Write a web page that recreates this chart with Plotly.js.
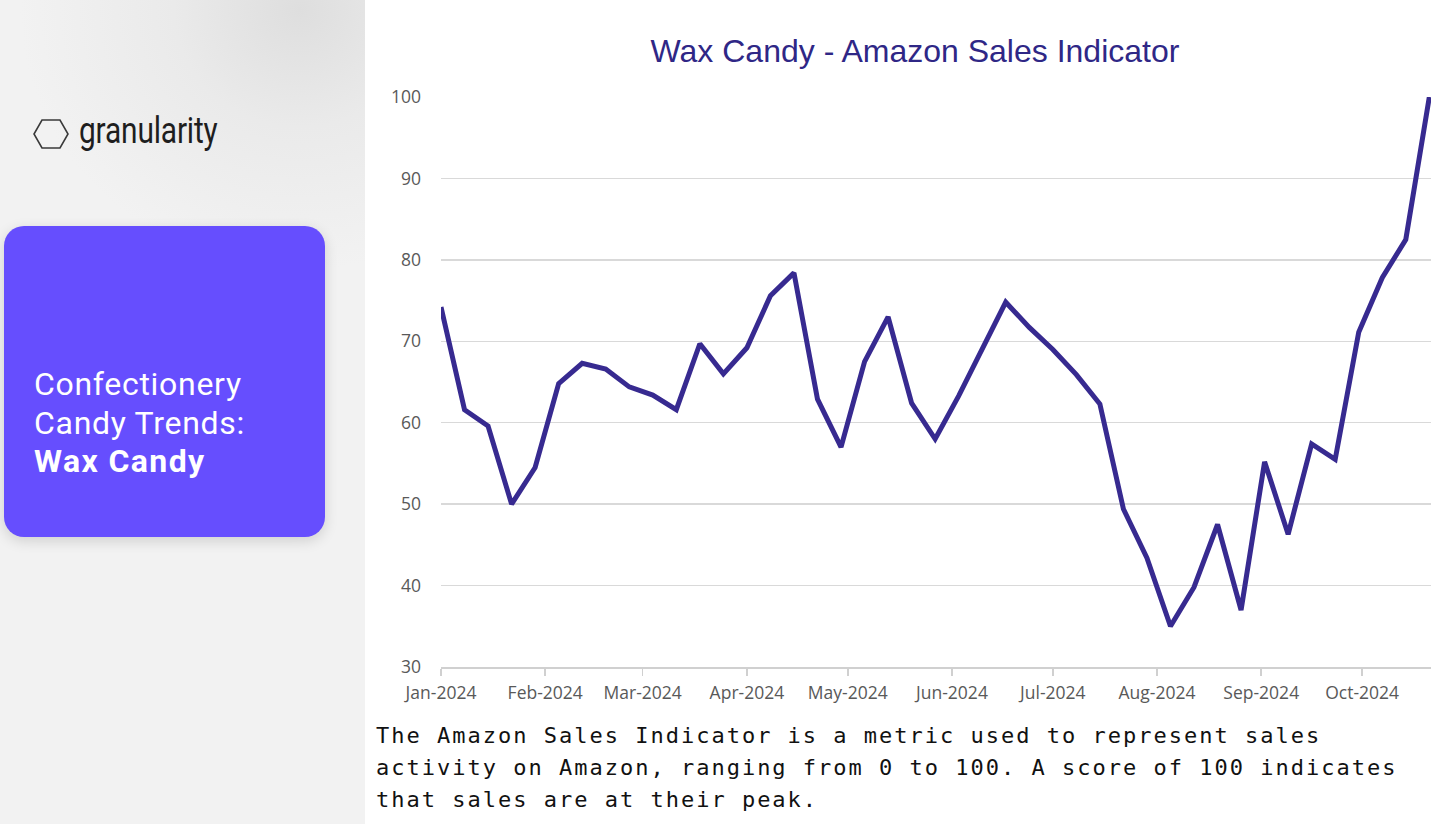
<!DOCTYPE html>
<html>
<head>
<meta charset="utf-8">
<script src="https://cdn.plot.ly/plotly-3.0.1.min.js"></script>
<style>
  html, body { margin:0; padding:0; width:1440px; height:824px; overflow:hidden; background:#ffffff; }
  #left { position:absolute; left:0; top:0; width:365px; height:824px;
    background: radial-gradient(ellipse 280px 260px at 300px 10px, #dedede 0%, #eaeaea 45%, #f2f2f2 100%), #f2f2f2; }
  #logo { position:absolute; left:33px; top:112px; height:44px; display:flex; align-items:center; }
  #logo svg { display:block; }
  #logoText { font-family: Roboto, "Noto Sans", sans-serif; font-size:36px; color:#1e1e1e; display:inline-block;
    transform: scaleX(0.83); transform-origin: left center; margin-left:10px; letter-spacing:-0.2px; line-height:44px; margin-top:-6px; }
  #card { position:absolute; left:4px; top:226px; width:321px; height:311px; border-radius:20px; background:#664efe;
    box-shadow: 0 4px 14px rgba(0,0,0,0.14); }
  .cardLine { position:absolute; left:30px; height:38px; line-height:38px; color:#ffffff;
    font-family:Roboto,"Open Sans",sans-serif; font-size:32px; letter-spacing:0.7px; white-space:nowrap; }
  #l1 { top:139px; } #l2 { top:177.5px; } #l3 { top:216px; font-weight:700; letter-spacing:1.4px; }
  #chart { position:absolute; left:365px; top:0; width:1075px; height:720px; }
  .noteLine { position:absolute; left:376px; font-family:"DejaVu Sans Mono", "Liberation Mono", monospace;
    font-size:22px; letter-spacing:2px; height:30px; line-height:30px; color:#111111; white-space:nowrap; }
  #n1 { top:721px; } #n2 { top:753px; } #n3 { top:785px; }
</style>
</head>
<body>
<div id="left">
  <div id="logo">
    <svg width="36" height="32" viewBox="0 0 36 32">
      <polygon points="9,2 27,2 35,16 27,30 9,30 1,16" fill="none" stroke="#3a3a3a" stroke-width="1.6"/>
    </svg>
    <span id="logoText">granularity</span>
  </div>
  <div id="card">
    <div class="cardLine" id="l1">Confectionery</div>
    <div class="cardLine" id="l2">Candy Trends:</div>
    <div class="cardLine" id="l3">Wax Candy</div>
  </div>
</div>
<div id="chart"></div>
<div class="noteLine" id="n1">The Amazon Sales Indicator is a metric used to represent sales</div>
<div class="noteLine" id="n2">activity on Amazon, ranging from 0 to 100. A score of 100 indicates</div>
<div class="noteLine" id="n3">that sales are at their peak.</div>
<script>
// Weekly dates (week starting) and Amazon Sales Indicator values
const weeks = [
  '2024-01-01','2024-01-08','2024-01-15','2024-01-22','2024-01-29',
  '2024-02-05','2024-02-12','2024-02-19','2024-02-26',
  '2024-03-04','2024-03-11','2024-03-18','2024-03-25',
  '2024-04-01','2024-04-08','2024-04-15','2024-04-22','2024-04-29',
  '2024-05-06','2024-05-13','2024-05-20','2024-05-27',
  '2024-06-03','2024-06-10','2024-06-17','2024-06-24',
  '2024-07-01','2024-07-08','2024-07-15','2024-07-22','2024-07-29',
  '2024-08-05','2024-08-12','2024-08-19','2024-08-26',
  '2024-09-02','2024-09-09','2024-09-16','2024-09-23','2024-09-30',
  '2024-10-07','2024-10-14','2024-10-21'
];
const salesIndicator = [
  74.2, 61.6, 59.6, 50.0, 54.5,
  64.8, 67.3, 66.6, 64.4,
  63.4, 61.6, 69.7, 66.0,
  69.2, 75.6, 78.4, 62.9, 57.0,
  67.5, 73.0, 62.4, 58.0,
  63.3, 69.0, 74.8, 71.7,
  69.0, 65.9, 62.3, 49.4, 43.4,
  35.0, 39.8, 47.5, 37.0,
  55.2, 46.3, 57.4, 55.5, 71.1,
  77.8, 82.5, 100
];
const chartTitle = 'Wax Candy - Amazon Sales Indicator';
const yTicks = [30, 40, 50, 60, 70, 80, 90, 100];

const tickFont = {family:'"Open Sans", "Noto Sans", sans-serif', size:17.5, color:'#595959'};

Plotly.newPlot('chart', [{
  type:'scatter', mode:'lines', x:weeks, y:salesIndicator,
  line:{color:'#372a90', width:5}, hoverinfo:'skip', showlegend:false
}], {
  width:1075, height:720,
  margin:{l:76, r:9, t:97, b:53},
  paper_bgcolor:'rgba(0,0,0,0)', plot_bgcolor:'#ffffff',
  title:{text:chartTitle, x:0.5116, xref:'container', xanchor:'center', y:0.93, yref:'container', yanchor:'middle',
    font:{family:'"Liberation Sans", Arial, sans-serif', size:32, color:'#2f2786'}},
  xaxis:{type:'date', range:['2024-01-01','2024-10-21 12:00'], tick0:'2024-01-01', dtick:'M1', tickformat:'%b-%Y',
    ticks:'outside', ticklen:7, tickwidth:1.5, tickcolor:'#d0d0d0', showline:true, linecolor:'#d0d0d0', linewidth:1.5,
    showgrid:false, zeroline:false, tickfont:tickFont, ticklabelstandoff:2, fixedrange:true},
  yaxis:{range:[30,100], tickvals:yTicks, showgrid:true, gridcolor:'#d9d9d9', gridwidth:1.5, zeroline:false,
    showline:false, ticks:'', tickfont:tickFont, ticklabelstandoff:19, fixedrange:true}
}, {displayModeBar:false, staticPlot:true});
</script>
</body>
</html>
